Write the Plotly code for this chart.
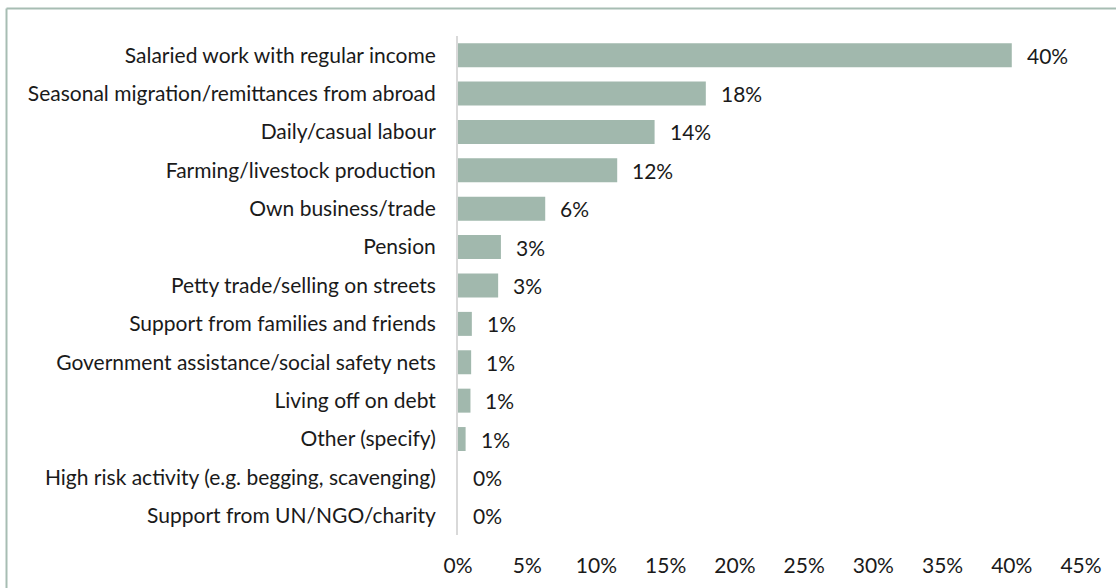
import plotly.graph_objects as go

categories = [
    "Salaried work with regular income",
    "Seasonal migration/remittances from abroad",
    "Daily/casual labour",
    "Farming/livestock production",
    "Own business/trade",
    "Pension",
    "Petty trade/selling on streets",
    "Support from families and friends",
    "Government assistance/social safety nets",
    "Living off on debt",
    "Other (specify)",
    "High risk activity (e.g. begging, scavenging)",
    "Support from UN/NGO/charity",
]
values = [40.0, 17.9, 14.2, 11.5, 6.3, 3.1, 2.9, 1.0, 0.95, 0.9, 0.55, 0.0, 0.0]
labels = ["40%", "18%", "14%", "12%", "6%", "3%", "3%", "1%", "1%", "1%", "1%", "0%", "0%"]
tick_vals = [0, 5, 10, 15, 20, 25, 30, 35, 40, 45]
tick_text = ["0%", "5%", "10%", "15%", "20%", "25%", "30%", "35%", "40%", "45%"]

FONT = "Lato"
FS = 21
TXT = "#1a1a1a"
BAR = "#A1B8AD"
BORDER = "#A7BDB3"

fig = go.Figure()
fig.add_trace(go.Bar(
    x=values, y=categories, orientation="h",
    marker=dict(color=BAR, line=dict(width=0)),
    hoverinfo="skip",
))

for v, c, t in zip(values, categories, labels):
    fig.add_annotation(x=v, y=c, text=t, showarrow=False, xanchor="left",
                       xshift=13, font=dict(family=FONT, size=FS, color=TXT))

L, R, T, B = 458, 1081, 36, 535
W, H = 1116, 588
px = lambda x: (x - L) / (R - L)
py = lambda y: (B - y) / (B - T)

fig.add_shape(type="line", xref="paper", yref="paper",
              x0=px(6.5), x1=px(1200), y0=py(8.5), y1=py(8.5),
              line=dict(color=BORDER, width=2))
fig.add_shape(type="line", xref="paper", yref="paper",
              x0=px(6.5), x1=px(6.5), y0=py(8.5), y1=py(700),
              line=dict(color=BORDER, width=2))

fig.update_layout(
    width=W, height=H,
    margin=dict(l=L, r=W - R, t=T, b=H - B),
    paper_bgcolor="white", plot_bgcolor="white",
    bargap=0.375,
    showlegend=False,
    font=dict(family=FONT, size=FS, color=TXT),
    xaxis=dict(range=[0, 45], tickvals=tick_vals, ticktext=tick_text,
               showgrid=False, zeroline=False, showline=False,
               ticks="", ticklabelstandoff=16, fixedrange=True),
    yaxis=dict(autorange="reversed", showgrid=False, zeroline=False,
               showline=True, linecolor="#D9D9D9", linewidth=2,
               ticks="", ticklabelstandoff=16, fixedrange=True),
)

fig.write_html("out.html", config={"displayModeBar": False})
